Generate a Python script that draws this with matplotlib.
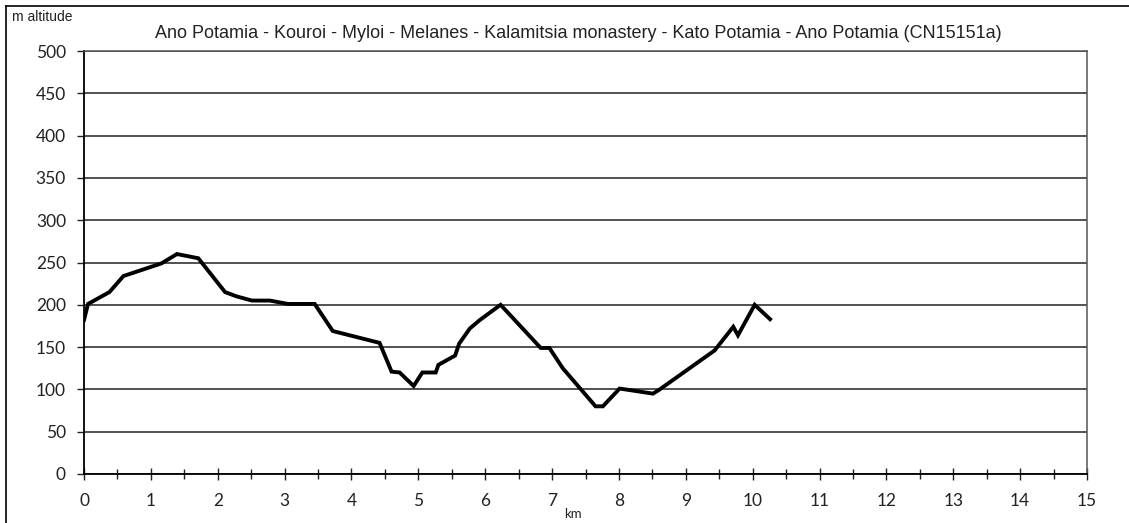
import matplotlib
matplotlib.use("Agg")
import matplotlib.pyplot as plt
from matplotlib.lines import Line2D
from matplotlib.ticker import MultipleLocator

title = "Ano Potamia - Kouroi - Myloi - Melanes - Kalamitsia monastery - Kato Potamia - Ano Potamia (CN15151a)"
y_label = "m altitude"
x_label = "km"

km = [0.0, 0.06, 0.38, 0.59, 1.16, 1.39, 1.71, 2.11, 2.28, 2.51, 2.78, 3.05, 3.45,
      3.72, 4.42, 4.60, 4.72, 4.93, 5.06, 5.26, 5.30, 5.55, 5.61, 5.77, 5.92,
      6.23, 6.83, 6.96, 7.16, 7.65, 7.76, 8.01, 8.51, 8.61, 9.43, 9.71, 9.78,
      10.03, 10.26]
alt = [182, 201, 215, 234, 249, 260, 255, 215, 210, 205, 205, 201, 201,
       169, 155, 121, 120, 104, 120, 120, 129, 140, 154, 172, 182,
       200, 149, 149, 125, 80, 80, 101, 95, 100, 146, 174, 164,
       200, 183]

y_ticks = list(range(0, 501, 50))
x_ticks = list(range(0, 16))

W, H = 1129, 523
fig = plt.figure(figsize=(W / 100, H / 100), dpi=100)
ax = fig.add_axes([84 / W, 1 - 474 / H, (1087 - 84) / W, (474 - 51) / H])

ax.plot(km, alt, color="black", linewidth=2.8, solid_joinstyle="miter")

ax.set_xlim(0, 15)
ax.set_ylim(0, 500)
ax.set_yticks(y_ticks)
ax.set_xticks(x_ticks)
ax.xaxis.set_minor_locator(MultipleLocator(0.5))
ax.yaxis.grid(True, color="#222222", linewidth=1.1)
ax.set_axisbelow(True)

tick_font = dict(family=["Lato", "DejaVu Sans"], size=12.5)
ax.set_yticklabels([str(v) for v in y_ticks], **tick_font)
ax.set_xticklabels([str(v) for v in x_ticks], **tick_font)
ax.tick_params(axis="y", direction="out", length=5, width=1, pad=8, colors="#222222")
ax.tick_params(axis="x", which="major", direction="inout", length=9, width=1, pad=9, colors="#222222")
ax.tick_params(axis="x", which="minor", direction="inout", length=7, width=1, colors="#222222")

for s in ["left", "bottom"]:
    ax.spines[s].set_color("black")
    ax.spines[s].set_linewidth(1.3)
for s in ["top", "right"]:
    ax.spines[s].set_color("#555555")
    ax.spines[s].set_linewidth(1.1)

fig.text(578 / W, 1 - 34 / H, title, ha="center", va="center",
         family=["Liberation Sans", "DejaVu Sans"], size=13, color="#222222")
fig.text(12 / W, 1 - 17 / H, y_label, ha="left", va="center",
         family=["Liberation Sans", "DejaVu Sans"], size=10, color="#222222")
fig.text(573 / W, 1 - 514 / H, x_label, ha="center", va="center",
         family=["Lato", "DejaVu Sans"], size=9.5, color="#222222")

# figure border
fig.add_artist(Line2D([6 / W, 6 / W], [0, 1 - 6 / H], color="black", linewidth=1.2, transform=fig.transFigure))
fig.add_artist(Line2D([6 / W, 1], [1 - 6 / H, 1 - 6 / H], color="black", linewidth=1.2, transform=fig.transFigure))

fig.savefig("out.png", dpi=100)
